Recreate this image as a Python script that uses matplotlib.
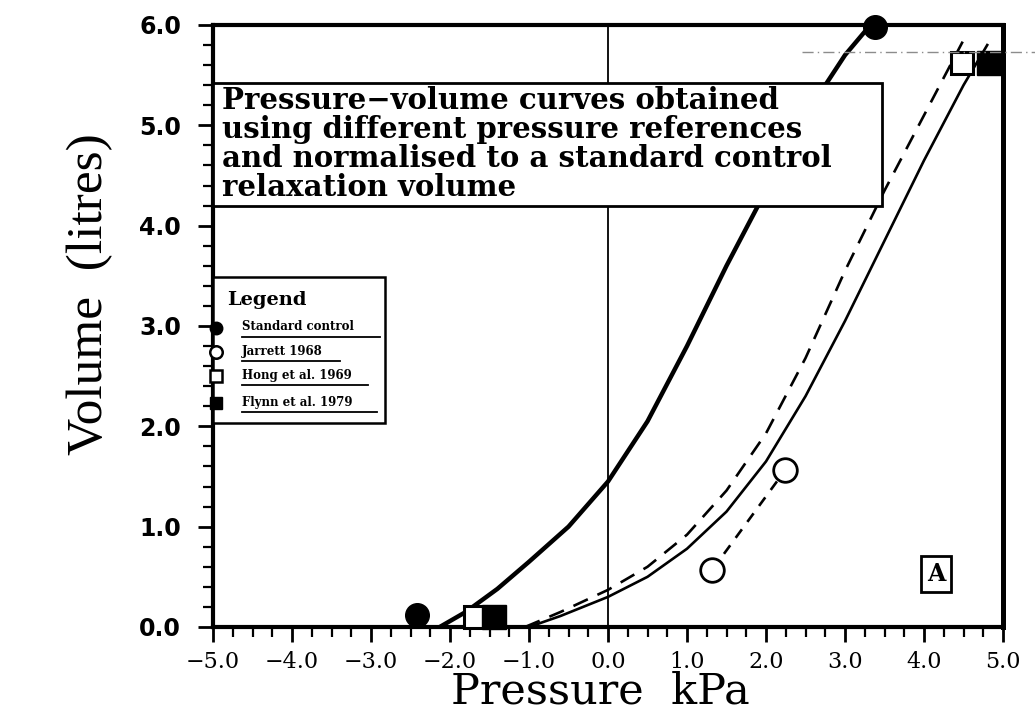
import matplotlib
matplotlib.use("Agg")
import matplotlib.pyplot as plt
from matplotlib.patches import Rectangle
from matplotlib.ticker import MultipleLocator, FixedLocator

# Standard control (thick solid curve)
std_x = [-2.13, -1.8, -1.4, -1.0, -0.5, 0.0, 0.5, 1.0, 1.5, 2.0, 2.5, 3.0, 3.3]
std_y = [0.0, 0.15, 0.38, 0.65, 1.0, 1.45, 2.05, 2.8, 3.6, 4.35, 5.1, 5.7, 5.98]
std_px = [-2.42, 3.38]
std_py = [0.12, 5.98]

# Jarrett 1968 (open circles, short dashes)
jar_x = [1.32, 2.24]
jar_y = [0.57, 1.56]

# Hong et al. 1969 (open squares, long dashes)
hong_x = [-1.05, -0.6, 0.0, 0.5, 1.0, 1.5, 2.0, 2.5, 3.0, 3.5, 4.0, 4.5]
hong_y = [0.0, 0.15, 0.37, 0.6, 0.92, 1.36, 1.93, 2.68, 3.55, 4.35, 5.1, 5.85]
hong_px = [-1.68, 4.48]
hong_py = [0.1, 5.62]

# Flynn et al. 1979 (filled squares, thin solid)
fly_x = [-1.0, -0.6, 0.0, 0.5, 1.0, 1.5, 2.0, 2.5, 3.0, 3.5, 4.0, 4.5, 4.8]
fly_y = [0.0, 0.11, 0.3, 0.5, 0.78, 1.15, 1.65, 2.3, 3.05, 3.85, 4.65, 5.4, 5.8]
fly_px = [-1.44, 4.82]
fly_py = [0.1, 5.62]

xticks = [-5, -4, -3, -2, -1, 0, 1, 2, 3, 4, 5]
yticks = [0, 1, 2, 3, 4, 5, 6]

legend_names = ["Standard control", "Jarrett 1968", "Hong et al. 1969", "Flynn et al. 1979"]
box_text = ("Pressure\u2212volume curves obtained\n"
            "using different pressure references\n"
            "and normalised to a standard control\n"
            "relaxation volume")

fig = plt.figure(figsize=(10.35, 7.22), dpi=100)
ax = fig.add_axes([0.2058, 0.1316, 0.7633, 0.8338])
ax.set_xlim(-5, 5)
ax.set_ylim(0, 6)

for side in ["left", "bottom", "top"]:
    ax.spines[side].set_linewidth(3)
ax.spines["right"].set_linewidth(3.6)

ax.xaxis.set_major_locator(FixedLocator(xticks))
ax.xaxis.set_minor_locator(MultipleLocator(0.25))
ax.yaxis.set_major_locator(FixedLocator(yticks))
ax.yaxis.set_minor_locator(MultipleLocator(0.2))
ax.tick_params(which="major", direction="out", length=11, width=2, pad=6)
ax.tick_params(which="minor", direction="out", length=7, width=1.6)
ax.set_xticklabels([f"{v:.1f}".replace("-", "\u2212") for v in xticks],
                   family="DejaVu Serif", fontsize=16)
ax.set_yticklabels([f"{v:.1f}" for v in yticks], family="DejaVu Sans",
                   fontsize=17, fontweight="bold")
ax.tick_params(axis="y", pad=12)

# zero pressure reference line
ax.axvline(0, color="black", lw=1.3, zorder=1)

# curves
ax.plot(std_x, std_y, color="black", lw=3.2, zorder=2)
ax.plot(hong_x, hong_y, color="black", lw=1.9, ls=(0, (6, 4)), zorder=2)
ax.plot(fly_x, fly_y, color="black", lw=1.9, zorder=2)
ax.plot(jar_x, jar_y, color="black", lw=1.9, ls=(0, (4, 3.5)), zorder=2)

# end markers
ax.plot(std_px, std_py, "o", color="black", ms=17, clip_on=False, zorder=6)
ax.plot(jar_x, jar_y, "o", mfc="white", mec="black", mew=2, ms=17, zorder=6)
ax.plot(hong_px, hong_py, "s", mfc="white", mec="black", mew=2.2, ms=16,
        clip_on=False, zorder=6)
ax.plot(fly_px, fly_py, "s", color="black", ms=17, clip_on=False, zorder=7)

# title box
ax.add_patch(Rectangle((-5, 4.2), 8.47, 1.22, fc="white", ec="black",
                       lw=2, zorder=4))
ax.text(-4.88, 5.39, box_text, va="top", ha="left", family="DejaVu Serif",
        fontweight="bold", fontsize=21, linespacing=1.0, zorder=5)

# panel letter
ax.text(4.15, 0.53, "A", ha="center", va="center", family="DejaVu Serif",
        fontweight="bold", fontsize=17, zorder=5,
        bbox=dict(boxstyle="square,pad=0.25", fc="white", ec="black", lw=2))

# legend box
ax.add_patch(Rectangle((-5, 2.03), 2.18, 1.46, fc="white", ec="black",
                       lw=1.8, zorder=4, clip_on=False))
ax.text(-4.82, 3.26, "Legend", ha="left", va="center", family="DejaVu Serif",
        fontweight="bold", fontsize=14, zorder=5)
leg_y = [2.98, 2.74, 2.50, 2.23]
leg_end = [-2.89, -3.39, -3.04, -2.92]
leg_style = [dict(marker="o", color="black"),
             dict(marker="o", mfc="white", mec="black", mew=1.8),
             dict(marker="s", mfc="white", mec="black", mew=1.8),
             dict(marker="s", color="black")]
for name, yy, xe, st in zip(legend_names, leg_y, leg_end, leg_style):
    ax.plot([-4.96], [yy], ls="none", ms=9, clip_on=False, zorder=6, **st)
    ax.text(-4.63, yy + 0.01, name, ha="left", va="center",
            family="DejaVu Serif", fontweight="bold", fontsize=8.5, zorder=5)
    ax.plot([-4.63, xe], [yy - 0.09, yy - 0.09], color="black", lw=1.3,
            zorder=5)

# scan artefact: faint dash-dot line at top right
fig.add_artist(plt.Line2D([0.775, 1.0], [0.928, 0.928], color="0.55",
                          lw=1, ls=(0, (8, 3, 1, 3))))

fig.text(0.087, 0.593, "Volume  (litres)", rotation=90, ha="center",
         va="center", family="Liberation Serif", fontsize=37)
fig.text(0.58, 0.025, "Pressure  kPa", ha="center", va="baseline",
         family="DejaVu Serif", fontsize=31)

fig.savefig("out.png", dpi=100)
